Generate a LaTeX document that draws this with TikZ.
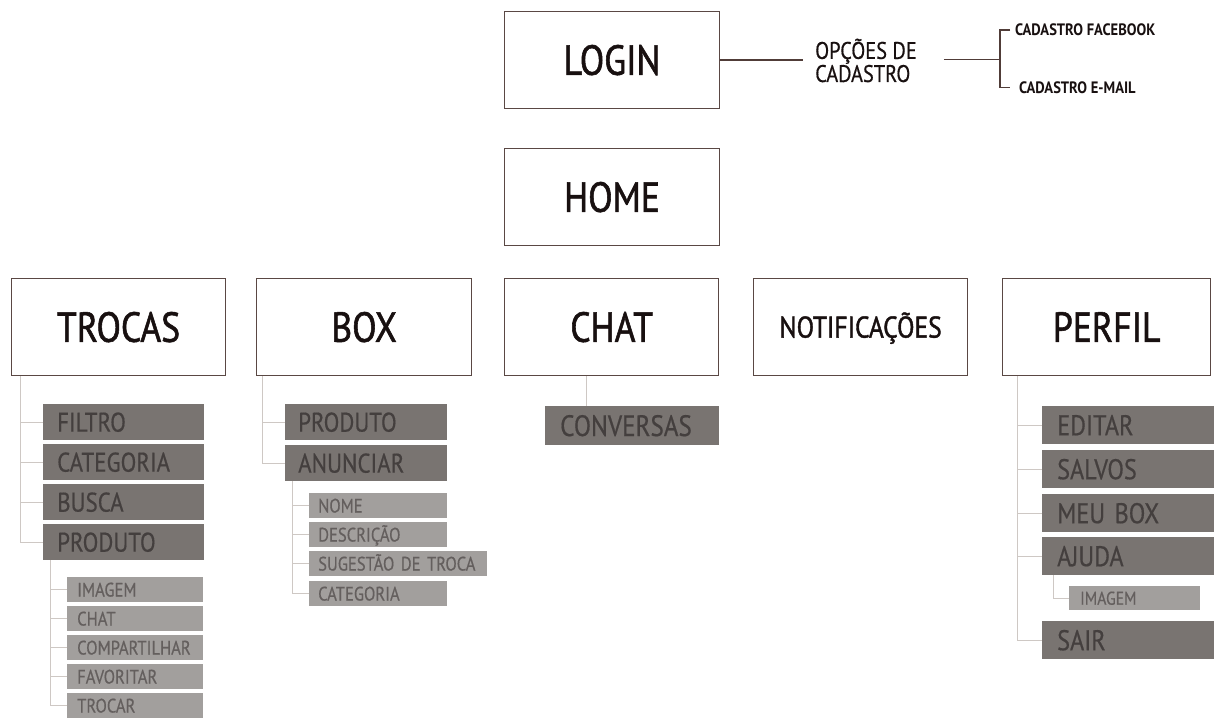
\documentclass[tikz,border=0pt]{standalone}
\usepackage{fontspec}
\newfontfamily\mf[FakeStretch=0.85,FakeBold=0.5]{PT Sans}
\newfontfamily\mfb[FakeStretch=0.85,FakeBold=1.3]{PT Sans}
\newfontfamily\smallfam[FakeStretch=0.88]{PT Sans}
\usetikzlibrary{calc}
\definecolor{bordercol}{RGB}{90,72,68}
\definecolor{linecol}{RGB}{80,60,56}
\definecolor{treecol}{RGB}{206,200,196}
\definecolor{darkfill}{RGB}{121,116,113}
\definecolor{lightfill}{RGB}{162,159,157}
\definecolor{darktxt}{RGB}{68,63,62}
\definecolor{lighttxt}{RGB}{100,95,94}
\definecolor{boxtxt}{RGB}{24,16,16}
\begin{document}
\begin{tikzpicture}[x=1pt,y=-1pt,
  mainbox/.style={draw=bordercol, line width=1.2pt, fill=white, minimum width=214pt, minimum height=97pt,
    anchor=north west, inner sep=0pt, text=boxtxt, font={\mfb\fontsize{42}{46}\selectfont},
    text height=29.4pt, text depth=0pt},
  plain/.style={text=boxtxt, inner ysep=0pt, font={\mf\fontsize{24}{21}\selectfont}},
  small/.style={text=boxtxt, inner ysep=0pt, font={\smallfam\bfseries\fontsize{16.5}{18}\selectfont},
    text height=11.5pt, text depth=0pt},
  conn/.style={draw=linecol, line width=1.4pt},
  tree/.style={draw=treecol, line width=1pt},
  dk/.style={fill=darkfill, text=darktxt, anchor=north west, inner ysep=0pt, align=left,
    font={\mf\fontsize{27}{29}\selectfont}, text height=18.9pt, text depth=0pt, minimum height=36pt},
  pk/.style={dk, font={\mf\fontsize{28.5}{30}\selectfont}, text height=20pt, minimum height=38pt,
    inner xsep=15pt, text width=144pt},
  lt/.style={fill=lightfill, text=lighttxt, anchor=north west, inner ysep=0pt, align=left,
    font={\mf\fontsize{19.5}{21}\selectfont}, text height=13.65pt, text depth=0pt, minimum height=25pt}
]
\useasboundingbox (0,0) rectangle (1214,718);
\fill[white] (0,0) rectangle (1214,718);

% top part
\node[mainbox, minimum width=215pt] (login) at (504,11) {LOGIN};
\node[mainbox, minimum width=215pt] (home) at (504,148) {HOME};
\node[plain, anchor=west, align=left, inner xsep=12pt] (opc) at (803,60.5) {OPÇÕES DE\\CADASTRO};
\coordinate (fork) at (1000,59.5);
\node[small, anchor=west, inner xsep=5pt] (fb) at (1010,30) {CADASTRO FACEBOOK};
\node[small, anchor=west, inner xsep=9pt] (em) at (1010,87.5) {CADASTRO E-MAIL};
\draw[conn] (login.east) -- (login.east -| opc.west);
\draw[conn, shorten <=15pt] (fork -| opc.east) -- (fork);
\draw[conn] (fb.west) -| (fork) |- (em.west);

% main row
\node[mainbox] (trocas) at (11,278) {TROCAS};
\node[mainbox, minimum width=215pt] (box) at (256,278) {BOX};
\node[mainbox] (chat) at (504,278) {CHAT};
\node[mainbox, font={\mfb\fontsize{30}{33}\selectfont}, text height=21pt] (notif) at (753,278) {NOTIFICAÇÕES};
\node[mainbox, minimum width=208pt] (perfil) at (1002,278) {PERFIL};

% TROCAS children
\node[dk, inner xsep=14pt, text width=133pt] (tfiltro) at (43,404) {FILTRO};
\node[dk, inner xsep=14pt, text width=133pt] (tcat) at (43,444) {CATEGORIA};
\node[dk, inner xsep=14pt, text width=133pt] (tbusca) at (43,484) {BUSCA};
\node[dk, inner xsep=14pt, text width=133pt] (tprod) at (43,524) {PRODUTO};
\node[lt, inner xsep=10pt, text width=116pt] (timg) at (67,577) {IMAGEM};
\node[lt, inner xsep=10pt, text width=116pt] (tchat) at (67,606) {CHAT};
\node[lt, inner xsep=10pt, text width=116pt] (tcomp) at (67,635) {COMPARTILHAR};
\node[lt, inner xsep=10pt, text width=116pt] (tfav) at (67,664) {FAVORITAR};
\node[lt, inner xsep=10pt, text width=116pt] (ttrocar) at (67,693) {TROCAR};
\coordinate (tv1) at (20,376);
\draw[tree] (tv1) |- (tprod.west);
\foreach \n in {tfiltro,tcat,tbusca} \draw[tree] (\n.west) -- (\n.west -| tv1);
\coordinate (tv2) at (50,560);
\draw[tree] (tv2) |- (ttrocar.west);
\foreach \n in {timg,tchat,tcomp,tfav} \draw[tree] (\n.west) -- (\n.west -| tv2);

% BOX children
\node[dk, inner xsep=13pt, text width=136pt] (bprod) at (285,404) {PRODUTO};
\node[dk, inner xsep=13pt, text width=136pt] (banun) at (285,445) {ANUNCIAR};
\node[lt, inner xsep=9pt, text width=120pt] (bnome) at (309,493) {NOME};
\node[lt, inner xsep=9pt, text width=120pt] (bdesc) at (309,522) {DESCRIÇÃO};
\node[lt, inner xsep=9pt, text width=160pt] (bsug) at (309,551) {SUGESTÃO DE TROCA};
\node[lt, inner xsep=9pt, text width=120pt] (bcat) at (309,581) {CATEGORIA};
\coordinate (tv3) at (262,376);
\draw[tree] (tv3) |- (banun.west);
\draw[tree] (bprod.west) -- (bprod.west -| tv3);
\coordinate (tv4) at (292,481);
\draw[tree] (tv4) |- (bcat.west);
\foreach \n in {bnome,bdesc,bsug} \draw[tree] (\n.west) -- (\n.west -| tv4);

% CHAT child
\node[dk, font={\mf\fontsize{29.5}{31}\selectfont}, text height=20.6pt, minimum height=39pt,
  inner xsep=15pt, text width=144pt] (conv) at (545,406) {CONVERSAS};
\coordinate (tv5) at (586,376);
\draw[tree] (tv5) -- (tv5 |- conv.north);

% PERFIL children
\node[pk] (pedit) at (1042,406) {EDITAR};
\node[pk] (psalv) at (1042,450) {SALVOS};
\node[pk] (pmeu) at (1042,494) {MEU BOX};
\node[pk] (pajuda) at (1042,537) {AJUDA};
\node[lt, font={\mf\fontsize{18.5}{20}\selectfont}, text height=13pt, minimum height=24pt,
  inner xsep=11pt, text width=109pt] (pimg) at (1069,586) {IMAGEM};
\node[pk] (psair) at (1042,621) {SAIR};
\coordinate (tv6) at (1017,376);
\draw[tree] (tv6) |- (psair.west);
\foreach \n in {pedit,psalv,pmeu,pajuda} \draw[tree] (\n.west) -- (\n.west -| tv6);
\coordinate (tv7) at (1053,575);
\draw[tree] (tv7) |- (pimg.west);
\end{tikzpicture}
\end{document}
